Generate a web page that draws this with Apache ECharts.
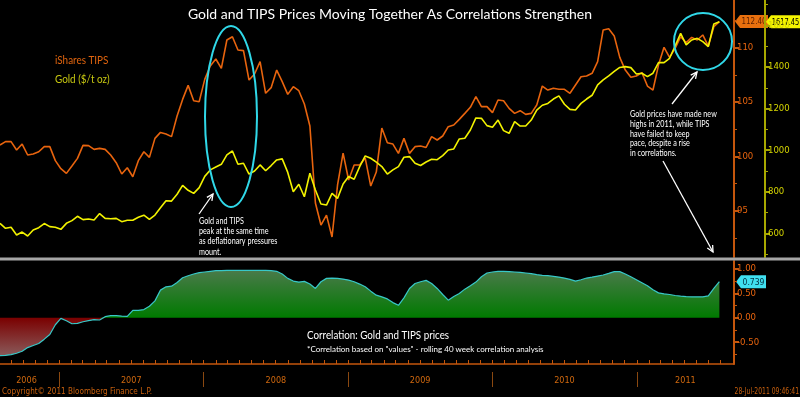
<!DOCTYPE html>
<html><head><meta charset="utf-8">
<script src="https://cdn.jsdelivr.net/npm/echarts@6/dist/echarts.min.js"></script>
<style>html,body{margin:0;padding:0;background:#000}#c{width:800px;height:397px}</style>
</head><body><div id="c"></div>
<script>
// ---- data (one point every two weeks) ----
const startDate = [2006, 7, 4];   // 4-Aug-2006
const stepDays = 14;
const tips = [
101.04,101.35,101.35,100.58,101.13,100.12,100.21,100.42,100.89,100.89,
99.60,98.86,98.43,99.10,99.81,101.01,100.98,100.64,100.73,100.64,
100.12,99.41,98.37,98.95,98.12,99.60,100.42,99.90,101.65,102.20,
102.05,101.81,103.71,105.24,106.53,105.12,105.03,107.08,108.31,108.96,
108.10,110.71,111.01,109.79,109.73,107.02,107.58,108.71,105.80,106.32,
107.94,106.87,105.70,106.41,106.04,104.81,102.79,95.70,93.67,94.59,
92.57,97.36,100.30,97.82,99.20,99.20,99.84,97.26,98.55,102.60,
101.25,101.13,100.27,101.65,100.27,100.89,100.95,100.82,101.81,101.50,
101.87,102.73,102.88,103.40,103.95,104.51,105.49,104.57,104.57,104.02,
105.18,105.12,104.41,103.95,104.20,103.86,103.95,104.72,106.47,106.10,
106.26,106.17,106.17,105.80,106.56,107.33,107.39,107.64,108.71,111.63,
111.75,111.08,109.11,107.94,107.27,107.39,107.70,106.47,106.10,108.40,
110.03,109.11,109.94,111.01,110.46,110.95,110.71,111.17,110.15,111.93,
112.40];
const gold = [
648,624,629,592,606,587,616,627,647,632,
629,619,648,661,682,666,669,664,695,672,
670,672,656,663,663,677,687,667,688,723,
757,755,788,831,807,792,820,874,905,919,
932,977,996,932,937,885,900,929,901,926,
953,958,893,800,836,776,889,808,741,736,
792,768,837,873,860,921,972,961,942,921,
885,905,921,966,969,937,926,943,956,954,
974,1001,1006,1054,1057,1097,1155,1153,1118,1110,
1145,1094,1081,1137,1116,1116,1145,1193,1216,1225,
1246,1261,1221,1196,1193,1225,1246,1264,1314,1338,
1357,1379,1398,1402,1397,1366,1370,1354,1370,1421,
1421,1442,1501,1562,1506,1530,1538,1522,1498,1607,
1617.45];
const corr = [
-0.779,-0.772,-0.759,-0.731,-0.690,-0.614,-0.572,-0.531,-0.441,-0.345,
-0.145,-0.014,-0.062,-0.124,-0.117,-0.083,-0.062,-0.041,-0.048,0.021,
0.041,0.041,0.034,0.028,0.152,0.152,0.166,0.234,0.345,0.566,
0.634,0.648,0.724,0.821,0.862,0.897,0.924,0.938,0.952,0.966,
0.966,0.972,0.972,0.972,0.972,0.972,0.972,0.972,0.972,0.966,
0.952,0.897,0.807,0.752,0.731,0.745,0.690,0.600,0.738,0.807,
0.814,0.807,0.793,0.772,0.738,0.690,0.634,0.545,0.462,0.428,
0.386,0.310,0.255,0.407,0.600,0.703,0.738,0.766,0.703,0.600,
0.476,0.359,0.434,0.497,0.586,0.655,0.731,0.841,0.917,0.938,
0.952,0.952,0.945,0.938,0.931,0.917,0.903,0.883,0.869,0.862,
0.848,0.834,0.814,0.786,0.752,0.779,0.814,0.834,0.855,0.876,
0.910,0.945,0.945,0.897,0.841,0.779,0.717,0.655,0.572,0.510,
0.490,0.476,0.455,0.441,0.434,0.428,0.428,0.428,0.448,0.600,
0.739];
const yearLabels = ['2006','2007','2008','2009','2010','2011'];
const yearLabelDates = [[2006,9,10],[2007,6,2],[2008,6,2],[2009,6,2],[2010,6,2],[2011,4,4]];
const yearBoundaries = [[2007,0,1],[2008,0,1],[2009,0,1],[2010,0,1],[2011,0,1]];
const tipsTicks = [95,100,105,110];
const tipsMinor = [92.5,97.5,102.5,107.5,112.5];
const goldTicks = [600,800,1000,1200,1400,1600];
const goldMinor = [500,700,900,1100,1300,1500,1700];
const corrTicks = [1,0.5,0,-0.5];
const corrMinor = [0.75,0.25,-0.25,-0.75];

// ---- build ----
const ts = a => new Date(a[0], a[1], a[2]).getTime();
const t0 = ts(startDate);
const dates = tips.map((_, i) => t0 + i * stepDays * 86400000);
const xMin = ts([2006,7,4]), xMax = ts([2011,8,4]);
const monthTicks = [];
for (let y = 2006; y <= 2011; y++) for (let m = 0; m < 12; m++) {
  const t = ts([y,m,1]); if (t > xMin && t < xMax) monthTicks.push(t);
}
const yearLabelTs = yearLabelDates.map(ts);
const ORANGE = '#e8640e', AX_OR = '#c4560c', YEL = '#f2f200', GOLDTXT = '#d4d400';
const axFont = "'DejaVu Sans Condensed', 'Liberation Sans', Arial, sans-serif";
const txtFont = 'Lato, Noto Sans, sans-serif';

const chart = echarts.init(document.getElementById('c'), null, {renderer:'canvas'});
const hiddenX = (gi) => ({gridIndex: gi, type:'value', min:xMin, max:xMax, show:false});
const yAx = (gi, min, max, vals, color, labColor, opts) => Object.assign({
  gridIndex: gi, type:'value', position:'right', min, max,
  axisLine:{show:true, onZero:false, lineStyle:{color, width:2}},
  axisTick:{show:true, customValues: vals, length:5, lineStyle:{color, width:2}},
  axisLabel:{show:true, customValues: vals, color: labColor, fontSize:9.5, fontFamily: axFont, margin:3, formatter: v => String(v)},
  splitLine:{show:false}
}, opts || {});
const yMinor = (gi, min, max, vals, color, opts) => Object.assign({
  gridIndex: gi, type:'value', position:'right', min, max,
  axisLine:{show:false, onZero:false},
  axisTick:{show:true, customValues: vals, length:3, lineStyle:{color, width:1}},
  axisLabel:{show:false}, splitLine:{show:false}
}, opts || {});

const option = {
  backgroundColor:'#000',
  animation:false,
  grid:[
    {left:0, right:66, top:0, height:257},
    {left:0, right:66, top:261, height:103}
  ],
  xAxis:[
    hiddenX(0),
    {gridIndex:1, type:'value', min:xMin, max:xMax, position:'bottom',
     axisLine:{show:true, onZero:false, lineStyle:{color:AX_OR, width:1.5}},
     axisTick:{show:true, inside:true, length:4, customValues: monthTicks, lineStyle:{color:AX_OR}},
     axisLabel:{show:false}, splitLine:{show:false}},
    {gridIndex:1, type:'value', min:xMin, max:xMax, position:'bottom', offset:8,
     axisLine:{show:false, onZero:false},
     axisTick:{show:true, customValues: yearBoundaries.map(ts), length:15, lineStyle:{color:'#8a4810', width:1}},
     axisLabel:{show:true, customValues: yearLabelTs, margin:4, color:'#d0680e', fontSize:9, fontFamily: axFont,
       formatter: v => { let b=-1, bd=1e15; yearLabelTs.forEach((t,i)=>{const d=Math.abs(t-v); if(d<bd){bd=d;b=i;}}); return yearLabels[b]; }},
     splitLine:{show:false}}
  ],
  yAxis:[
    yAx(0, 90.73, 114.39, tipsTicks, AX_OR, ORANGE),
    yMinor(0, 90.73, 114.39, tipsMinor, AX_OR),
    yAx(0, 486.1, 1722.3, goldTicks, '#a8a800', GOLDTXT, {offset:31}),
    yMinor(0, 486.1, 1722.3, goldMinor, '#a8a800', {offset:31}),
    yAx(1, -0.951, 1.164, corrTicks, AX_OR, ORANGE, {axisLabel:{show:true, customValues:corrTicks, color:ORANGE, fontSize:9.5, fontFamily:axFont, margin:3, formatter: v => v.toFixed(2)}}),
    yMinor(1, -0.951, 1.164, corrMinor, AX_OR)
  ],
  series:[
    {name:'iShares TIPS', type:'line', xAxisIndex:0, yAxisIndex:0, symbol:'none',
     data: dates.map((d,i)=>[d, tips[i]]), lineStyle:{color:ORANGE, width:1.6}, itemStyle:{color:ORANGE}},
    {name:'Gold ($/t oz)', type:'line', xAxisIndex:0, yAxisIndex:2, symbol:'none',
     data: dates.map((d,i)=>[d, gold[i]]), lineStyle:{color:YEL, width:1.6}, itemStyle:{color:YEL}},
    {name:'corrPos', type:'line', xAxisIndex:1, yAxisIndex:4, symbol:'none',
     data: dates.map((d,i)=>[d, Math.max(corr[i],0)]), lineStyle:{width:0},
     areaStyle:{opacity:1, color:{type:'linear', x:0,y:0,x2:0,y2:1, colorStops:[{offset:0,color:'#4a7a4a'},{offset:1,color:'#007a00'}]}}},
    {name:'corrNeg', type:'line', xAxisIndex:1, yAxisIndex:4, symbol:'none',
     data: dates.map((d,i)=>[d, Math.min(corr[i],0)]), lineStyle:{width:0},
     areaStyle:{opacity:1, color:{type:'linear', x:0,y:0,x2:0,y2:1, colorStops:[{offset:0,color:'#7a0000'},{offset:1,color:'#8a5a5a'}]}}},
    {name:'Correlation', type:'line', xAxisIndex:1, yAxisIndex:4, symbol:'none',
     data: dates.map((d,i)=>[d, corr[i]]), lineStyle:{color:'#38c8c8', width:1.2}}
  ]
};
chart.setOption(option);

// ---- annotations & last-value boxes ----
const last = tips.length - 1;
const yT = chart.convertToPixel({yAxisIndex:0}, tips[last]);
const yG = chart.convertToPixel({yAxisIndex:2}, gold[last]);
const yC = chart.convertToPixel({yAxisIndex:4}, corr[last]);
const box = (x0, y, w, fill, txtColor, text, sx) => ({
  type:'group', z:100, children:[
    {type:'polygon', shape:{points:[[x0,y],[x0+5,y-6.5],[x0+w,y-6.5],[x0+w,y+6.5],[x0+5,y+6.5]]}, style:{fill}},
    {type:'text', x:x0+5+(w-5)/2, y:y+0.5, scaleX:sx, style:{text, fill:txtColor, font:'9px '+axFont, align:'center', verticalAlign:'middle'}}
  ]});
const arrow = (x1,y1,x2,y2) => {
  const a = Math.atan2(y2-y1, x2-x1), L = 7, s = 0.45;
  return {type:'group', z:50, children:[
    {type:'line', shape:{x1,y1,x2,y2}, style:{stroke:'#fff', lineWidth:1.3}},
    {type:'polyline', shape:{points:[[x2-L*Math.cos(a-s), y2-L*Math.sin(a-s)],[x2,y2],[x2-L*Math.cos(a+s), y2-L*Math.sin(a+s)]]}, style:{stroke:'#fff', lineWidth:1.3, fill:null}}
  ]};
};
const txt = (x, y, text, fill, size, sx, extra) => ({type:'text', x, y, z:60, scaleX:sx||1,
  style:Object.assign({text, fill, font: size+'px '+txtFont}, extra||{})});
chart.setOption({graphic:[
  txt(390, 14, 'Gold and TIPS Prices Moving Together As Correlations Strengthen', '#fff', 14, 1, {align:'center', verticalAlign:'middle'}),
  txt(55, 60, 'iShares TIPS', '#e0640e', 11, 0.9, {verticalAlign:'middle'}),
  txt(55, 79, 'Gold ($/t oz)', '#c8c810', 11, 0.9, {verticalAlign:'middle'}),
  {type:'rect', z:40, shape:{x:0, y:257.5, width:800, height:3}, style:{fill:'#a6a6a6'}},
  {type:'ellipse', z:45, shape:{cx:231, cy:116.5, rx:26, ry:90.5}, style:{stroke:'#30d8e8', lineWidth:2, fill:null}},
  {type:'ellipse', z:45, shape:{cx:703, cy:41.5, rx:29, ry:28.5}, style:{stroke:'#30d8e8', lineWidth:2, fill:null}},
  arrow(199,214,213,194),
  arrow(672,104,697,72),
  arrow(663,161,713,252),
  txt(199, 216, 'Gold and TIPS\npeak at the same time\nas deflationary pressures\nmount.', '#fff', 9, 0.8, {lineHeight:10.2}),
  txt(630, 109.5, 'Gold prices have made new\nhighs in 2011, while TIPS\nhave failed to keep\npace, despite a rise\nin correlations.', '#fff', 9, 0.8, {lineHeight:9.7}),
  txt(307, 330, 'Correlation: Gold and TIPS prices', '#fff', 11, 0.89),
  txt(307, 345, '*Correlation based on "values" - rolling 40 week correlation analysis', '#fff', 8, 1),
  {type:'text', x:2, y:392, z:60, scaleX:0.9, style:{text:'Copyright\u00a9 2011 Bloomberg Finance L.P.', fill:'#c8600e', font:'9px '+axFont, verticalAlign:'middle'}},
  {type:'text', x:799, y:392, z:60, scaleX:0.75, style:{text:'28-Jul-2011 09:46:41', fill:'#c8600e', font:'9px '+axFont, align:'right', verticalAlign:'middle'}},
  box(735, yT, 33, '#e8700e', '#5a1e00', tips[last].toFixed(2), 0.88),
  box(766, yG, 34, '#f4f400', '#000', gold[last].toFixed(2), 0.82),
  box(736, yC, 30, '#40e0f0', '#003040', corr[last].toFixed(3), 0.95)
]});
</script></body></html>
